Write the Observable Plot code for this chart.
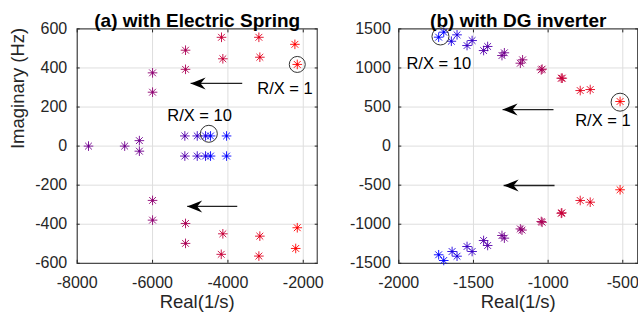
<!DOCTYPE html>
<html><head><meta charset="utf-8">
<script src="https://cdn.jsdelivr.net/npm/d3@7"></script>
<script src="https://cdn.jsdelivr.net/npm/@observablehq/plot@0.6"></script>
<style>
body{margin:0;background:#fff;}
#wrap{position:relative;width:638px;height:322px;font-family:"Liberation Sans",Arial,Helvetica,sans-serif;}
#wrap > div{position:absolute;top:0;}
</style></head><body>
<div id="wrap"><div id="pa" style="left:0"></div><div id="pb" style="left:330px"></div></div>
<script>
// ---------- Panel (a): with Electric Spring ----------
const titleA = "(a) with Electric Spring";
const esRe = [-2159,-2222,-2159,-2200, -3152,-3178,-3152,-3178, -4134,-4170,-4134,-4177,
              -5125,-5125,-5125,-5125, -6000,-6000,-6000,-6000, -6350,-6350,-6740,-7700,
              -5143,-5143, -4814,-4814, -4594,-4594, -4461,-4461,-4036,-4036];
const esIm = [418,521,-418,-524, 455,557,-461,-563, 447,557,-449,-554,
              393,491,-396,-498, 276,375,-278,-379, 28,-26,0,0,
              52,-51, 52,-51, 52,-51, 52,-51,52,-51];
const esRX = [1,1,1,1, 2,2,2,2, 3,3,3,3, 4,4,4,4, 5,5,5,5, 6,6,6,6, 7,7, 8,8, 9,9, 10,10,10,10];
const xTicksA = [-8000,-6000,-4000,-2000];
const yTicksA = [-600,-400,-200,0,200,400,600];
const arrowsA = {x1:[-3620,-3752], x2:[-4990,-5080], y:[321,-309]};
const circlesA = {x:[-2159,-4506], y:[418,63], r:[8,8.5]};
const notesA = {x:[-3221,-5611], y:[293,157], text:["R/X = 1","R/X = 10"]};

// ---------- Panel (b): with DG inverter ----------
const titleB = "(b) with DG inverter";
const dgRe = [-518,-518, -785,-718,-785,-718, -912,-905,-908,-912, -1046,-1040,-1046,-1040,
              -1186,-1171,-1186,-1175, -1309,-1293,-1309,-1293, -1432,-1405,-1432,-1405,
              -1543,-1509,-1543,-1509, -1648,-1610,-1643,-1610, -1733,-1699,-1733,-1699];
const dgIm = [571,-559, 711,724,-696,-718, 869,869,-854,-860, 976,985,-965,-975,
              1061,1104,-1060,-1075, 1159,1194,-1144,-1178, 1223,1275,-1208,-1272,
              1287,1351,-1285,-1349, 1342,1424,-1349,-1409, 1394,1458,-1391,-1464];
const dgRX = [1,1, 2,2,2,2, 3,3,3,3, 4,4,4,4, 5,5,5,5, 6,6,6,6, 7,7,7,7, 8,8,8,8, 9,9,9,9, 10,10,10,10];
const xTicksB = [-2000,-1500,-1000,-500];
const yTicksB = [-1500,-1000,-500,0,500,1000,1500];
const arrowsB = {x1:[-964,-957], x2:[-1305,-1298], y:[468,-504]};
const circlesB = {x:[-1721,-518], y:[1403,562], r:[8.5,9]};
const notesB = {x:[-1949,-819], y:[1053,328], text:["R/X = 10","R/X = 1"]};

const xLabel = "Real(1/s)";
const yLabel = "Imaginary (Hz)";

// ---------- helpers ----------
const asterisk = {draw(ctx, size) {
  const r = Math.sqrt(size / Math.PI), d = r * Math.SQRT1_2;
  ctx.moveTo(-r, 0); ctx.lineTo(r, 0);
  ctx.moveTo(0, -r); ctx.lineTo(0, r);
  ctx.moveTo(-d, -d); ctx.lineTo(d, d);
  ctx.moveTo(-d, d); ctx.lineTo(d, -d);
}};
const arrowHead = {draw(ctx) {
  ctx.moveTo(0, 0); ctx.lineTo(15, -6); ctx.lineTo(10, 0); ctx.lineTo(15, 6); ctx.closePath();
}};
const rows = (o) => o[Object.keys(o)[0]].map((_, i) => Object.fromEntries(Object.keys(o).map(k => [k, o[k][i]])));
const FONT = "'Liberation Sans', Arial, Helvetica, sans-serif";
const fmt = d => String(d);
const blank = () => "";

function panel({width, marginLeft, marginRight, xDomain, yDomain, xTicks, yTicks, re, im, rx,
                arrows, circles, notes, title, tickPadY, yLabelDx}) {
  const pts = re.map((x, i) => ({x, y: im[i], rx: rx[i]}));
  const arr = rows(arrows), circ = rows(circles), nts = rows(notes);
  const marks = [
    Plot.gridX(xTicks, {stroke: "#dedede", strokeOpacity: 1}),
    Plot.gridY(yTicks, {stroke: "#dedede", strokeOpacity: 1}),
    Plot.axisX(xTicks, {anchor: "bottom", tickSize: 0, tickPadding: 13, fontSize: 16, label: null, fill: "#262626", tickFormat: fmt}),
    Plot.axisY(yTicks, {anchor: "left", tickSize: 0, tickPadding: tickPadY, fontSize: 16, label: null, fill: "#262626", tickFormat: fmt}),
    Plot.axisX(xTicks, {anchor: "bottom", tickSize: -3, tickFormat: blank, label: null, stroke: "#262626"}),
    Plot.axisX(xTicks, {anchor: "top", tickSize: -3, tickFormat: blank, label: null, stroke: "#262626"}),
    Plot.axisY(yTicks, {anchor: "left", tickSize: -3, tickFormat: blank, label: null, stroke: "#262626"}),
    Plot.axisY(yTicks, {anchor: "right", tickSize: -3, tickFormat: blank, label: null, stroke: "#262626"}),
    Plot.frame({stroke: "#262626", strokeWidth: 1}),
    Plot.dot(pts, {x: "x", y: "y", stroke: "rx", symbol: asterisk, r: 4.8, fill: "none", strokeWidth: 0.9}),
    Plot.dot(pts, {x: "x", y: "y", fill: "rx", r: 1.1, stroke: null}),
    Plot.dot(circ, {x: "x", y: "y", r: "r", stroke: "#333", fill: "none", strokeWidth: 1}),
    Plot.link(arr, {x1: "x1", x2: "x2", y1: "y", y2: "y", stroke: "#222", strokeWidth: 1.3}),
    Plot.dot(arr, {x: "x2", y: "y", symbol: arrowHead, fill: "#000", stroke: null, r: 5}),
    Plot.text(nts, {x: "x", y: "y", text: "text", textAnchor: "start", fontSize: 16.5, fill: "#000"}),
    Plot.text([title], {frameAnchor: "top", text: d => d, dy: -15.5, fontSize: 19, fontWeight: "bold", fill: "#000"}),
    Plot.text([xLabel], {frameAnchor: "bottom", text: d => d, dy: 44.5, fontSize: 18.5, fill: "#262626"}),
  ];
  if (yLabelDx != null) marks.push(
    Plot.text([yLabel], {frameAnchor: "left", text: d => d, dx: yLabelDx, dy: 3, rotate: -90, fontSize: 18.5, fill: "#262626"}));
  return Plot.plot({
    width, height: 322, marginLeft, marginRight, marginTop: 28.4, marginBottom: 59.2,
    x: {domain: xDomain}, y: {domain: yDomain},
    r: {type: "identity"},
    color: {type: "linear", domain: [1, 10], range: ["#ff0000", "#0000ff"], interpolate: "rgb"},
    style: {fontFamily: FONT, fontSize: "16px", background: "white", overflow: "visible"},
    marks
  });
}

document.getElementById("pa").append(panel({
  width: 330, marginLeft: 76.7, marginRight: 13.3, xDomain: [-8000, -1630], yDomain: [-600, 600],
  xTicks: xTicksA, yTicks: yTicksA, re: esRe, im: esIm, rx: esRX,
  arrows: arrowsA, circles: circlesA, notes: notesA, title: titleA, tickPadY: 10, yLabelDx: -59
}));
document.getElementById("pb").append(panel({
  width: 308, marginLeft: 68.3, marginRight: 0.8, xDomain: [-2000, -400], yDomain: [-1500, 1500],
  xTicks: xTicksB, yTicks: yTicksB, re: dgRe, im: dgIm, rx: dgRX,
  arrows: arrowsB, circles: circlesB, notes: notesB, title: titleB, tickPadY: 8, yLabelDx: null
}));
</script>
</body></html>
